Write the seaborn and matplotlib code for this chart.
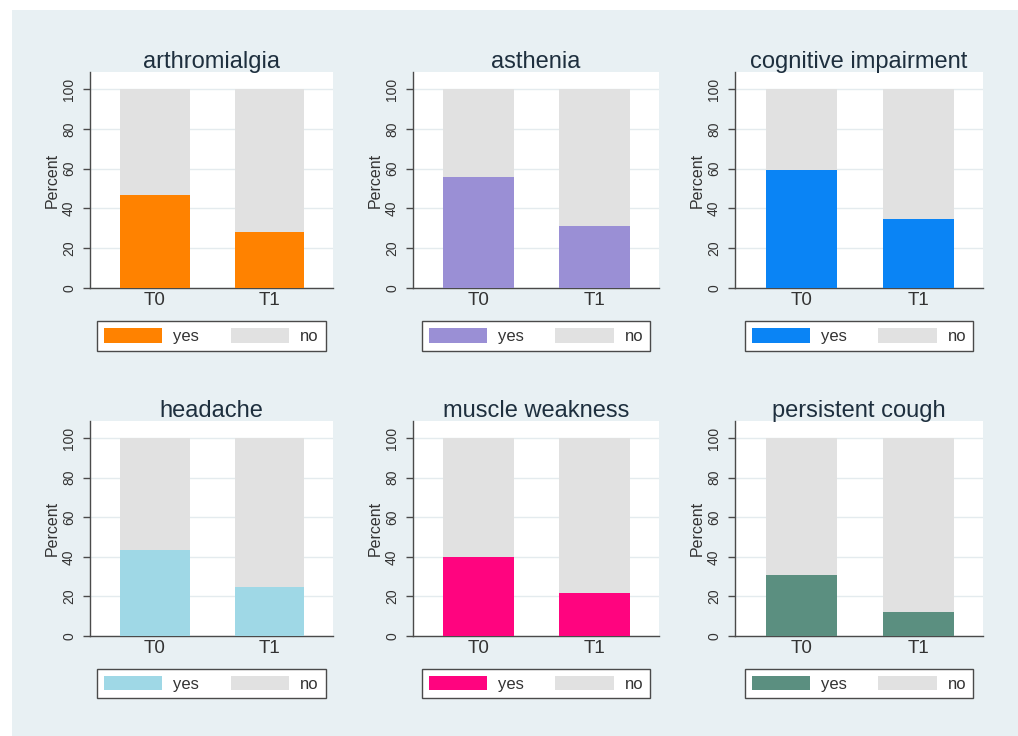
import matplotlib
matplotlib.use("Agg")
import matplotlib.pyplot as plt
import seaborn as sns
import pandas as pd
from matplotlib.patches import Patch, Rectangle

# ---- data ----
times = ["T0", "T1"]
symptoms = ["arthromialgia", "asthenia", "cognitive impairment",
            "headache", "muscle weakness", "persistent cough"]

arthromialgia_yes = [47, 28]
arthromialgia_no = [53, 72]
asthenia_yes = [56, 31]
asthenia_no = [44, 69]
cognitive_yes = [59.5, 34.5]
cognitive_no = [40.5, 65.5]
headache_yes = [43.5, 24.5]
headache_no = [56.5, 75.5]
muscle_yes = [40, 21.5]
muscle_no = [60, 78.5]
cough_yes = [31, 12]
cough_no = [69, 88]

yes_series = [arthromialgia_yes, asthenia_yes, cognitive_yes,
              headache_yes, muscle_yes, cough_yes]
no_series = [arthromialgia_no, asthenia_no, cognitive_no,
             headache_no, muscle_no, cough_no]

yes_colors = ["#ff8200", "#9a8fd5", "#0a84f5", "#9fd8e6", "#ff047f", "#5b8f80"]
no_color = "#e1e1e1"
bg_color = "#e8f0f3"

# ---- style ----
sns.set_theme(style="white")
plt.rcParams["font.family"] = ["Liberation Sans", "DejaVu Sans"]

W, H = 1018, 736
fig = plt.figure(figsize=(W / 100, H / 100), dpi=100, facecolor="white")
fig.patches.append(Rectangle((12 / W, 0), 1, (H - 10) / H, transform=fig.transFigure,
                             facecolor=bg_color, edgecolor="none", zorder=-10))

cols = [(90, 333), (413, 659), (735, 983)]
rows = [(72, 288), (421, 636)]

axis_col = "#4a4a4a"
text_col = "#333333"
title_col = "#1e2f3e"

for i, name in enumerate(symptoms):
    r, c = divmod(i, 3)
    x0, x1 = cols[c]
    y0, y1 = rows[r]
    ax = fig.add_axes([x0 / W, 1 - y1 / H, (x1 - x0) / W, (y1 - y0) / H])
    ax.set_facecolor("white")

    df = pd.DataFrame({"time": times,
                       "yes": yes_series[i],
                       "no": no_series[i]})
    df["total"] = df["yes"] + df["no"]

    sns.barplot(data=df, x="time", y="total", color=no_color, width=0.61,
                errorbar=None, linewidth=0, saturation=1, ax=ax, zorder=2)
    sns.barplot(data=df, x="time", y="yes", color=yes_colors[i], width=0.61,
                errorbar=None, linewidth=0, saturation=1, ax=ax, zorder=3)

    ax.set_xlim(-0.568, 1.555)
    ax.set_ylim(0, 108.6)
    ax.set_yticks([0, 20, 40, 60, 80, 100])
    ax.yaxis.grid(True, color="#e4ebee", linewidth=1, zorder=0)
    ax.xaxis.grid(False)
    ax.set_axisbelow(True)

    for s in ["top", "right"]:
        ax.spines[s].set_visible(False)
    for s in ["left", "bottom"]:
        ax.spines[s].set_visible(True)
        ax.spines[s].set_color(axis_col)
        ax.spines[s].set_linewidth(1)

    ax.tick_params(axis="y", which="both", left=True, length=5, width=1,
                   color=axis_col, labelsize=10, labelcolor=text_col, pad=5,
                   labelrotation=90)
    for lab in ax.get_yticklabels():
        lab.set_va("center")
    ax.tick_params(axis="x", bottom=False, length=0, labelsize=13.5,
                   labelcolor=text_col, pad=3)

    ax.set_xlabel("")
    ax.set_ylabel("Percent", fontsize=11.5, color=text_col, labelpad=2)
    ax.set_title(name, fontsize=17, color=title_col, pad=3)

    handles = [Patch(facecolor=yes_colors[i], edgecolor="none"),
               Patch(facecolor=no_color, edgecolor="none")]
    leg = ax.legend(handles, ["yes", "no"], loc="upper center",
                    bbox_to_anchor=(0.5, -0.153), borderaxespad=0, ncol=2,
                    fontsize=12, handlelength=3.5, handleheight=1.0,
                    handletextpad=0.66, columnspacing=1.9, borderpad=0.4,
                    fancybox=False, frameon=True, framealpha=1)
    frame = leg.get_frame()
    frame.set_edgecolor(axis_col)
    frame.set_linewidth(1)
    frame.set_facecolor("white")
    for t in leg.get_texts():
        t.set_color(text_col)

fig.savefig("out.png", dpi=100, facecolor=fig.get_facecolor())
